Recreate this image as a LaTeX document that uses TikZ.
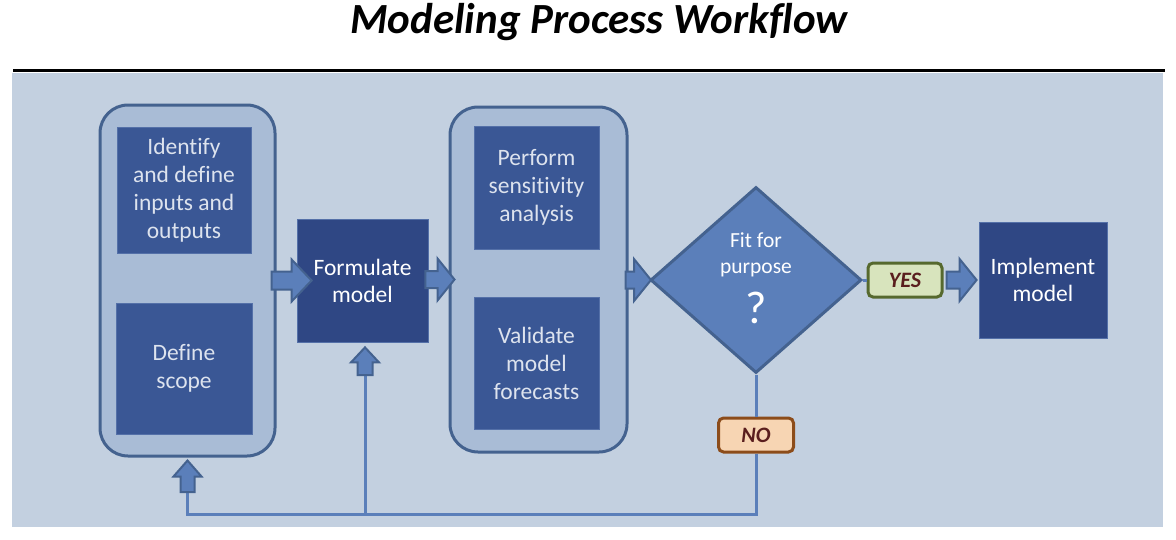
\documentclass[tikz,border=0pt]{standalone}
\usepackage{fontspec}
\setmainfont{Carlito}[Ligatures=NoCommon]
\usetikzlibrary{shapes.geometric,calc}
\definecolor{panelbg}{HTML}{C3D0E0}
\definecolor{groupfill}{HTML}{A9BCD6}
\definecolor{groupedge}{HTML}{44628F}
\definecolor{boxfill}{HTML}{3A5795}
\definecolor{boxedge}{HTML}{5470A8}
\definecolor{darkbox}{HTML}{2F4784}
\definecolor{midblue}{HTML}{5B7FBA}
\definecolor{txtlight}{HTML}{DDE3EE}
\definecolor{yesfill}{HTML}{D8E4BD}
\definecolor{yesedge}{HTML}{56692E}
\definecolor{nofill}{HTML}{F7D5B3}
\definecolor{noedge}{HTML}{8C4C1A}
\definecolor{tagtext}{HTML}{5A1E1E}
\newcommand\harrow[5]{% start, tip, head length, shaft half, head half
  \draw[barrow] let \p1=#1, \p2=#2 in
   (\x1,\y2+#4pt) -- (\x2-#3pt,\y2+#4pt) -- (\x2-#3pt,\y2+#5pt) -- (\x2,\y2)
   -- (\x2-#3pt,\y2-#5pt) -- (\x2-#3pt,\y2-#4pt) -- (\x1,\y2-#4pt) -- cycle;}
\newcommand\varrow[5]{% bottom, tip, head length, shaft half, head half
  \draw[barrow] let \p1=#1, \p2=#2 in
   (\x2-#4pt,\y1) -- (\x2-#4pt,\y2-#3pt) -- (\x2-#5pt,\y2-#3pt) -- (\x2,\y2)
   -- (\x2+#5pt,\y2-#3pt) -- (\x2+#4pt,\y2-#3pt) -- (\x2+#4pt,\y1) -- cycle;}
\begin{document}
\begin{tikzpicture}[x=1pt,y=-1pt,
  group/.style={draw=groupedge, fill=groupfill, line width=3pt, rounded corners=28pt, inner sep=0pt},
  lightbox/.style={draw=boxedge, fill=boxfill, line width=0.8pt, inner sep=0pt, text=txtlight, align=center,
    font=\fontsize{23.5}{28}\selectfont},
  darkbx/.style={draw=boxedge, fill=darkbox, line width=0.8pt, inner sep=0pt, text=white, align=center,
    font=\fontsize{23.5}{27}\selectfont},
  decision/.style={diamond, draw=groupedge, fill=midblue, line width=3pt, inner sep=0pt},
  barrow/.style={draw=groupedge, fill=midblue, line width=2pt, line join=miter},
  fb/.style={draw=midblue, line width=3pt},
  tag/.style={rounded corners=5pt, line width=3pt, inner sep=0pt, text=tagtext,
    font=\fontsize{22}{22}\selectfont\bfseries\itshape},
]
\useasboundingbox (0,0) rectangle (1176,539);
\fill[white] (0,0) rectangle (1176,539);
% title and rule
\node[font=\fontsize{43}{45}\selectfont\bfseries\itshape] (title) at (599,22) {Modeling Process Workflow};
\draw[line width=3pt] (13,70.5) coordinate (ruleL) -- (1165,70.5) coordinate (ruleR);
\fill[panelbg] (12,73) rectangle (1163,527);
% groups
\node[group, minimum width=175pt, minimum height=351pt] (g1) at (187.5,280.5) {};
\node[group, minimum width=177pt, minimum height=345pt] (g2) at (538.5,279.5) {};
% boxes
\node[lightbox, minimum width=134pt, minimum height=126pt] (b1) at (184,190) {Identify\\and define\\inputs and\\outputs};
\node[lightbox, minimum width=136pt, minimum height=131pt] (b2) at (184,368.5) {Define\\scope};
\node[darkbx, minimum width=131pt, minimum height=123pt] (form) at (362.5,280.5) {Formulate\\model};
\node[lightbox, minimum width=125pt, minimum height=123pt] (b3) at (536.5,187.5) {Perform\\sensitivity\\analysis};
\node[lightbox, minimum width=125pt, minimum height=132pt] (b4) at (536.5,363) {Validate\\model\\forecasts};
\node[decision, minimum width=211pt, minimum height=186pt] (dec) at (756,280) {};
\node[text=white, align=center, font=\fontsize{21.5}{26}\selectfont] (dect) at (756,255) {Fit for\\purpose};
\node[text=white, font=\fontsize{46}{46}\selectfont] (q) at (756,308) {?};
\node[darkbx, minimum width=128pt, minimum height=116pt] (impl) at (1043,280) {Implement\\model};
\node[tag, draw=yesedge, fill=yesfill, minimum width=74pt, minimum height=34pt] (yes) at (905,280) {YES};
\node[tag, draw=noedge, fill=nofill, minimum width=75pt, minimum height=34pt] (no) at (756,435) {NO};
% connectors
\draw[fb] (dec.east) -- (yes.west);
\draw[fb] (dec.south) -- (no.north);
\coordinate (fbL) at (187.5,514);
\coordinate (fbM) at (365,514);
\coordinate (aL) at (187.5,492);
\coordinate (aM) at (365,375);
\draw[fb] (no.south) -- (no.south |- fbL) -- (fbL) -- (aL);
\draw[fb] (fbM) -- (aM);
% block arrows
\harrow{($(g1.east)+(-5,0)$)}{($(form.west)+(15,0)$)}{20}{9}{21}
\harrow{($(form.east)+(-3,0)$)}{($(g2.west)+(6,0)$)}{17}{8.5}{21}
\harrow{($(g2.east)+(-3,0)$)}{($(dec.west)+(2,0)$)}{17}{8.5}{21}
\harrow{($(yes.east)+(3,0)$)}{($(impl.west)+(-2,0)$)}{17}{8.5}{21}
\varrow{(aL)}{($(g1.south)+(0,3)$)}{16}{7}{14}
\varrow{(aM)}{($(form.south)+(2.5,5)$)}{15}{7.5}{14}
\end{tikzpicture}
\end{document}
